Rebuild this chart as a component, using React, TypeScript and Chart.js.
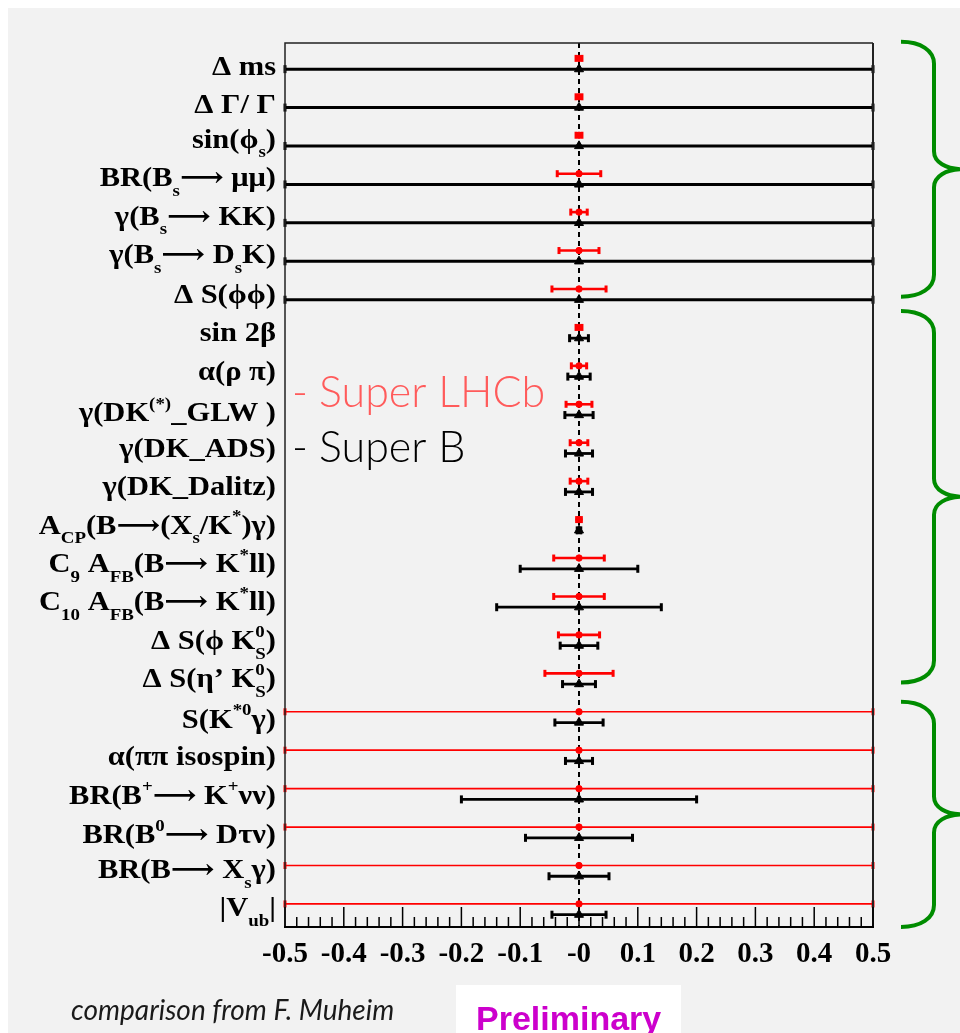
import React, { useEffect, useRef } from "react";
import { Chart, registerables } from "chart.js";

Chart.register(...registerables);

// ---------------- data ----------------
const observables: string[] = [
  "Δ ms",
  "Δ Γ/ Γ",
  "sin(ϕ_{s})",
  "BR(B_{s}⟶ μμ)",
  "γ(B_{s}⟶ KK)",
  "γ(B_{s}⟶ D_{s}K)",
  "Δ S(ϕϕ)",
  "sin 2β",
  "α(ρ π)",
  "γ(DK^{(*)}_GLW )",
  "γ(DK_ADS)",
  "γ(DK_Dalitz)",
  "A_{CP}(B⟶(X_{s}/K^{*})γ)",
  "C_{9} A_{FB}(B⟶ K^{*}ll)",
  "C_{10} A_{FB}(B⟶ K^{*}ll)",
  "Δ S(ϕ K^{0}_{S})",
  "Δ S(η’ K^{0}_{S})",
  "S(K^{*0}γ)",
  "α(ππ isospin)",
  "BR(B^{+}⟶ K^{+}νν)",
  "BR(B^{0}⟶ Dτν)",
  "BR(B⟶ X_{s}γ)",
  "|V_{ub}|",
];

const superLHCbValues: number[] = [0, 0, 0, 0, 0, 0, 0, 0, 0, 0, 0, 0, 0, 0, 0, 0, 0, 0, 0, 0, 0, 0, 0];
const superLHCbErrors: number[] = [
  0.005, 0.005, 0.005, 0.037, 0.014, 0.034, 0.046, 0.005, 0.013, 0.022, 0.015, 0.015,
  0.004, 0.043, 0.043, 0.035, 0.058, 0.5, 0.5, 0.5, 0.5, 0.5, 0.5,
];

const superBValues: number[] = [0, 0, 0, 0, 0, 0, 0, 0, 0, 0, 0, 0, 0, 0, 0, 0, 0, 0, 0, 0, 0, 0, 0];
const superBErrors: number[] = [
  0.5, 0.5, 0.5, 0.5, 0.5, 0.5, 0.5, 0.016, 0.019, 0.024, 0.023, 0.023,
  0.003, 0.1, 0.14, 0.032, 0.028, 0.041, 0.023, 0.2, 0.091, 0.051, 0.046,
];

const xTickValues: number[] = [-0.5, -0.4, -0.3, -0.2, -0.1, 0, 0.1, 0.2, 0.3, 0.4, 0.5];
const xTickLabels: string[] = ["-0.5", "-0.4", "-0.3", "-0.2", "-0.1", "-0", "0.1", "0.2", "0.3", "0.4", "0.5"];

const legendLabels: string[] = ["Super LHCb", "Super B"];
const groupSpans: number[][] = [
  [-0.03, 6.6],
  [6.97, 16.64],
  [17.14, 23],
];
const footnote = "comparison from F. Muheim";
const stamp = "Preliminary";

// ---------------- helpers ----------------
const SERIF = "'Liberation Serif', 'DejaVu Serif', 'Times New Roman', serif";
const GREEN = "#008c00";

type Seg = { t: string; k: "n" | "sub" | "sup" };

function parseMarkup(s: string): Seg[] {
  const out: Seg[] = [];
  let buf = "";
  let i = 0;
  while (i < s.length) {
    const c = s[i];
    if ((c === "_" || c === "^") && s[i + 1] === "{") {
      if (buf) {
        out.push({ t: buf, k: "n" });
        buf = "";
      }
      const end = s.indexOf("}", i + 2);
      out.push({ t: s.slice(i + 2, end), k: c === "_" ? "sub" : "sup" });
      i = end + 1;
    } else {
      buf += c;
      i++;
    }
  }
  if (buf) out.push({ t: buf, k: "n" });
  return out;
}

function drawRich(ctx: CanvasRenderingContext2D, text: string, rightX: number, centerY: number, size: number, sx: number) {
  const segs = parseMarkup(text);
  const small = size * 0.62;
  let x = 0;
  let supStart = 0;
  let top = Infinity;
  let bottom = -Infinity;
  const placed: { t: string; x: number; dy: number; fs: number }[] = [];
  segs.forEach((s, idx) => {
    const fs = s.k === "n" ? size : small;
    ctx.font = `bold ${fs}px ${SERIF}`;
    const m = ctx.measureText(s.t);
    const dy = s.k === "sub" ? size * 0.36 : s.k === "sup" ? -size * 0.45 : 0;
    const stacked = s.k === "sub" && idx > 0 && segs[idx - 1].k === "sup";
    const x0 = stacked ? supStart : x;
    placed.push({ t: s.t, x: x0, dy, fs });
    if (s.k === "sup") supStart = x0;
    const end = x0 + m.width;
    x = stacked ? Math.max(x, end) : end;
    top = Math.min(top, dy - m.actualBoundingBoxAscent);
    bottom = Math.max(bottom, dy + m.actualBoundingBoxDescent);
  });
  const total = x;
  const baseY = centerY - (top + bottom) / 2;
  ctx.save();
  ctx.translate(rightX, baseY);
  ctx.scale(sx, 1);
  ctx.fillStyle = "#000";
  ctx.textAlign = "left";
  ctx.textBaseline = "alphabetic";
  placed.forEach((p) => {
    ctx.font = `bold ${p.fs}px ${SERIF}`;
    ctx.fillText(p.t, p.x - total, p.dy);
  });
  ctx.restore();
}

function drawBrace(ctx: CanvasRenderingContext2D, x0: number, x1: number, x2: number, yT: number, yB: number) {
  const yM = (yT + yB) / 2;
  const rv = 22;
  const rm = 18;
  ctx.beginPath();
  ctx.moveTo(x0, yT);
  ctx.bezierCurveTo(x0 + (x1 - x0) * 0.6, yT, x1, yT + rv * 0.4, x1, yT + rv);
  ctx.lineTo(x1, yM - rm);
  ctx.bezierCurveTo(x1, yM - rm * 0.4, x1 + (x2 - x1) * 0.4, yM, x2, yM);
  ctx.bezierCurveTo(x1 + (x2 - x1) * 0.4, yM, x1, yM + rm * 0.4, x1, yM + rm);
  ctx.lineTo(x1, yB - rv);
  ctx.bezierCurveTo(x1, yB - rv * 0.4, x0 + (x1 - x0) * 0.6, yB, x0, yB);
  ctx.stroke();
}

const rootStylePlugin = {
  id: "rootStyle",
  beforeDatasetsDraw(chart: any) {
    const { ctx, chartArea: a } = chart;
    const xs = chart.scales.x;
    const ys = chart.scales.y;
    ctx.save();
    ctx.beginPath();
    ctx.rect(a.left - 2, a.top, a.right - a.left + 4, a.bottom - a.top);
    ctx.clip();
    chart.data.datasets.forEach((ds: any) => {
      const errs: number[] | undefined = ds.errorBars;
      if (!errs) return;
      ds.data.forEach((p: any, i: number) => {
        const e = errs[i];
        const x1 = xs.getPixelForValue(p.x - e);
        const x2 = xs.getPixelForValue(p.x + e);
        const yy = ys.getPixelForValue(p.y);
        const full = e >= 0.5;
        ctx.strokeStyle = ds.borderColor;
        ctx.lineWidth = full ? ds.errFullWidth : ds.errWidth;
        ctx.beginPath();
        ctx.moveTo(x1, yy);
        ctx.lineTo(x2, yy);
        ctx.stroke();
        ctx.fillStyle = ds.borderColor;
        const ch = ds.capHeight;
        ctx.fillRect(x1 - 1.5, yy - ch / 2, 3, ch);
        ctx.fillRect(x2 - 1.5, yy - ch / 2, 3, ch);
      });
    });
    ctx.restore();
  },
  afterDraw(chart: any) {
    const { ctx, chartArea: a } = chart;
    const xs = chart.scales.x;
    const ys = chart.scales.y;
    ctx.save();
    // frame
    ctx.strokeStyle = "#222";
    ctx.lineWidth = 1.5;
    ctx.beginPath();
    ctx.moveTo(a.left, a.bottom);
    ctx.lineTo(a.left, a.top);
    ctx.lineTo(a.right, a.top);
    ctx.stroke();
    ctx.lineWidth = 2;
    ctx.beginPath();
    ctx.moveTo(a.right, a.top);
    ctx.lineTo(a.right, a.bottom);
    ctx.stroke();
    ctx.strokeStyle = "#000";
    ctx.beginPath();
    ctx.moveTo(a.left - 1, a.bottom);
    ctx.lineTo(a.right + 1, a.bottom);
    ctx.stroke();
    // ticks (inward)
    ctx.lineWidth = 1.5;
    ctx.beginPath();
    for (let k = 0; k <= 50; k++) {
      const px = xs.getPixelForValue(xs.min + k * 0.02);
      const len = k % 5 === 0 ? 20 : 10;
      ctx.moveTo(px, a.bottom);
      ctx.lineTo(px, a.bottom - len);
    }
    ctx.stroke();
    // tick labels
    ctx.fillStyle = "#000";
    ctx.font = `bold 29px ${SERIF}`;
    ctx.textAlign = "center";
    ctx.textBaseline = "alphabetic";
    xTickValues.forEach((v, i) => {
      ctx.fillText(xTickLabels[i], xs.getPixelForValue(v), a.bottom + 35);
    });
    // y labels
    observables.forEach((lab, i) => {
      drawRich(ctx, lab, a.left - 9, ys.getPixelForValue(i + 0.59), 27, 1.13);
    });
    // braces
    ctx.strokeStyle = GREEN;
    ctx.lineWidth = 4;
    ctx.lineJoin = "round";
    groupSpans.forEach(([f, t]) => {
      drawBrace(ctx, a.right + 28, a.right + 61, a.right + 90, ys.getPixelForValue(f), ys.getPixelForValue(t));
    });
    // legend text
    ctx.textAlign = "left";
    ctx.font = `300 43px Lato, 'Open Sans', sans-serif`;
    ctx.fillStyle = "#ff5b5b";
    ctx.fillText("-", a.left + 7, a.top + 364);
    ctx.fillText(legendLabels[0], a.left + 34, a.top + 364);
    ctx.fillStyle = "#000";
    ctx.fillText("-", a.left + 7, a.top + 419);
    ctx.fillText(legendLabels[1], a.left + 34, a.top + 419);
    // footnote
    ctx.font = `italic 28px Lato, 'Open Sans', sans-serif`;
    ctx.fillStyle = "#1a1a1a";
    ctx.fillText(footnote, 63, 1012);
    // stamp
    ctx.fillStyle = "#ffffff";
    ctx.fillRect(448, 977, 225, 48);
    ctx.font = `bold 34px 'Liberation Sans', Arial, sans-serif`;
    ctx.fillStyle = "#cc00cc";
    ctx.fillText(stamp, 468, 1022);
    ctx.restore();
  },
};

export default function App() {
  const ref = useRef<HTMLCanvasElement>(null);
  useEffect(() => {
    const redData = superLHCbValues.map((v, i) => ({ x: v, y: i + 0.4 }));
    const blackData = superBValues.map((v, i) => ({ x: v, y: i + 0.68 }));
    const chart = new Chart(ref.current as HTMLCanvasElement, {
      type: "scatter",
      data: {
        datasets: [
          {
            type: "line",
            label: "zero",
            data: [
              { x: 0, y: 0 },
              { x: 0, y: observables.length },
            ],
            borderColor: "#000",
            borderWidth: 2,
            borderDash: [5, 4],
            pointRadius: 0,
            showLine: true,
            order: 3,
          } as any,
          {
            label: legendLabels[1],
            data: blackData,
            errorBars: superBErrors,
            borderColor: "#000000",
            backgroundColor: "#000000",
            pointStyle: "triangle",
            pointRadius: 5.2,
            pointBorderWidth: 1,
            errWidth: 2.8,
            errFullWidth: 3,
            capHeight: 8,
            order: 2,
          } as any,
          {
            label: legendLabels[0],
            data: redData,
            errorBars: superLHCbErrors,
            borderColor: "#ff0000",
            backgroundColor: "#ff0000",
            pointStyle: "circle",
            pointRadius: 3.2,
            pointBorderWidth: 1,
            errWidth: 2.6,
            errFullWidth: 1.7,
            capHeight: 7,
            order: 1,
          } as any,
        ],
      },
      options: {
        animation: false,
        responsive: false,
        devicePixelRatio: 1,
        events: [],
        layout: { padding: { left: 277, right: 87, top: 35, bottom: 106 } },
        plugins: { legend: { display: false }, tooltip: { enabled: false } },
        scales: {
          x: { type: "linear", min: -0.5, max: 0.5, display: false },
          y: { type: "linear", min: 0, max: observables.length, reverse: true, display: false },
        },
      },
      plugins: [rootStylePlugin],
    });
    return () => chart.destroy();
  }, []);
  return (
    <div
      style={{
        position: "fixed",
        left: 8,
        top: 8,
        right: 0,
        bottom: 0,
        background: "#f2f2f2",
        overflow: "hidden",
      }}
    >
      <canvas ref={ref} width={952} height={1025} style={{ display: "block" }} />
    </div>
  );
}
